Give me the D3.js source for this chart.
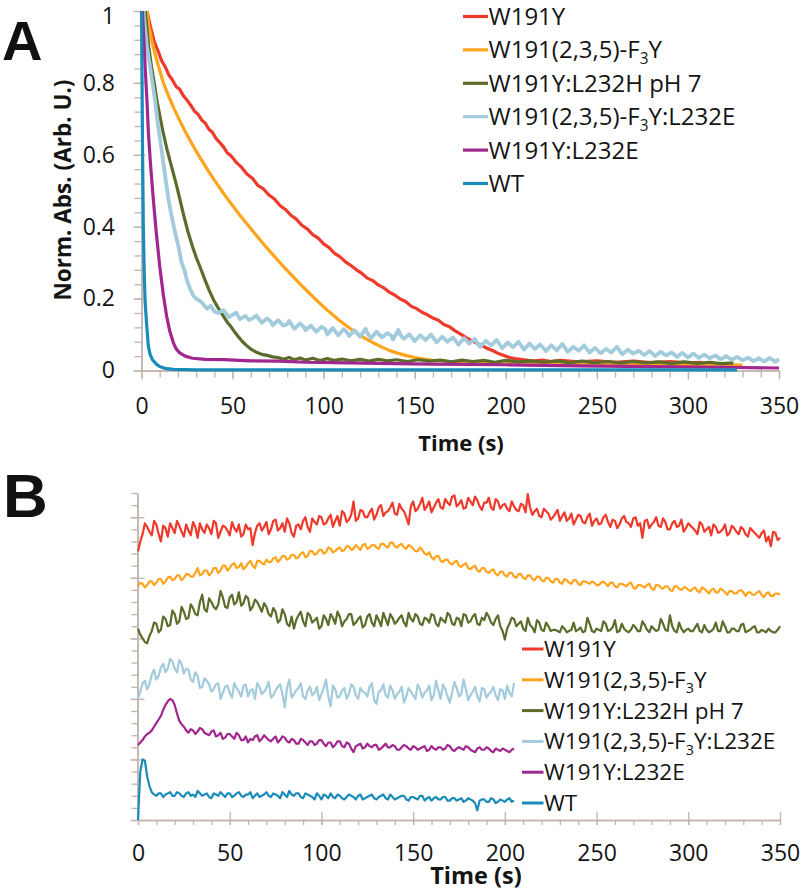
<!DOCTYPE html>
<html><head><meta charset="utf-8">
<script src="https://cdn.jsdelivr.net/npm/d3@7"></script>
<style>body{margin:0;background:#fff}svg{display:block}</style>
</head><body>
<svg id="c" width="803" height="894"></svg>
<script>
// ---------- data ----------
const seriesNames = ["W191Y","W191(2,3,5)-F_3Y","W191Y:L232H pH 7","W191(2,3,5)-F_3Y:L232E","W191Y:L232E","WT"];
const seriesColors = ["#ef3a2b","#ffa41c","#5b6c2b","#a2cbdb","#a1278f","#1a8cb9"];

const xTicks = [0,50,100,150,200,250,300,350];
const yTicksA = [0,0.2,0.4,0.6,0.8,1];
const yTickLabelsA = ["0","0.2","0.4","0.6","0.8","1"];
const yMajorB = [0,0.5,1,1.5,2,2.5];

// Panel A: normalized absorbance decay, [time (s), value]
const redA = [[3,1.0],[5,0.955],[7,0.915],[9,0.89],[11,0.862],[13,0.845],[15,0.822],[17,0.808],[19,0.79],[21,0.782],[23,0.764],[25,0.752],[27,0.738],[29,0.722],[31,0.713],[33,0.697],[35,0.688],[37,0.671],[39,0.662],[41,0.645],[43,0.634],[45,0.622],[47,0.606],[49,0.598],[52,0.579],[55,0.565],[58,0.546],[61,0.534],[64,0.514],[67,0.505],[70,0.488],[73,0.477],[76,0.459],[79,0.448],[82,0.432],[85,0.421],[88,0.404],[91,0.394],[94,0.378],[97,0.368],[100,0.352],[103,0.342],[106,0.326],[109,0.316],[112,0.302],[115,0.292],[118,0.28],[121,0.27],[124,0.257],[127,0.25],[130,0.238],[133,0.23],[136,0.218],[139,0.21],[142,0.199],[145,0.192],[148,0.179],[151,0.172],[154,0.162],[157,0.155],[160,0.146],[163,0.14],[166,0.128],[169,0.122],[172,0.111],[175,0.102],[178,0.092],[181,0.084],[184,0.076],[187,0.069],[190,0.061],[193,0.055],[196,0.047],[199,0.042],[202,0.036],[205,0.033],[210,0.03],[215,0.026],[220,0.029],[225,0.025],[230,0.028],[240,0.024],[250,0.027],[260,0.023],[270,0.026],[280,0.022],[290,0.025],[300,0.021],[308,0.023]];
const orangeA = [[3,1.0],[4,0.96],[6,0.91],[8,0.87],[10,0.835],[12,0.8],[15,0.762],[18,0.727],[21,0.695],[24,0.665],[27,0.637],[30,0.61],[33,0.585],[36,0.56],[39,0.537],[42,0.515],[45,0.493],[48,0.472],[51,0.452],[54,0.432],[57,0.413],[60,0.395],[63,0.376],[66,0.358],[69,0.34],[72,0.323],[75,0.306],[78,0.289],[81,0.273],[84,0.257],[87,0.241],[90,0.226],[93,0.211],[96,0.196],[99,0.182],[102,0.168],[105,0.155],[108,0.142],[111,0.13],[114,0.119],[117,0.108],[120,0.098],[124,0.086],[128,0.075],[132,0.065],[136,0.056],[140,0.049],[145,0.042],[150,0.036],[155,0.032],[160,0.028],[170,0.025],[180,0.022],[200,0.02],[250,0.018],[300,0.016],[330,0.015]];
const greenA = [[2,1.0],[3,0.95],[4,0.9],[5.5,0.845],[7,0.8],[8.5,0.75],[10,0.71],[12,0.66],[14,0.615],[16.5,0.567],[19,0.52],[21,0.478],[23,0.435],[25.5,0.386],[28,0.345],[30,0.315],[32,0.29],[35,0.25],[37,0.225],[39.5,0.197],[42,0.175],[44.5,0.155],[47,0.135],[49,0.123],[51,0.108],[53,0.095],[55.5,0.08],[58,0.068],[60.5,0.058],[63,0.051],[66,0.045],[69,0.042],[72,0.038],[75,0.036],[78,0.031],[81,0.036],[84,0.03],[87,0.035],[90,0.029],[94,0.034],[98,0.028],[102,0.033],[106,0.028],[110,0.032],[115,0.027],[120,0.031],[125,0.026],[130,0.031],[135,0.027],[140,0.03],[146,0.025],[152,0.03],[158,0.026],[164,0.029],[170,0.024],[176,0.029],[182,0.025],[188,0.028],[194,0.023],[200,0.028],[207,0.024],[214,0.027],[221,0.023],[228,0.027],[235,0.022],[242,0.026],[249,0.022],[256,0.025],[263,0.021],[270,0.025],[277,0.021],[284,0.024],[291,0.02],[298,0.024],[305,0.02],[312,0.023],[318,0.019],[325,0.021]];
const lightBlueA = [[1,1.0],[2,0.95],[3,0.9],[4.7,0.845],[6,0.8],[7.4,0.753],[9,0.685],[11,0.614],[13,0.54],[14.7,0.48],[16.5,0.43],[18.4,0.385],[20.5,0.34],[22,0.3],[23.5,0.28],[25,0.25],[26.6,0.228],[28.5,0.208],[30,0.2],[33,0.19],[36,0.172],[38,0.18],[40,0.164],[42,0.16],[45,0.168],[48,0.148],[50,0.155],[52,0.161],[54,0.143],[57,0.152],[59,0.14],[61,0.145],[63,0.153],[66,0.133],[69,0.145],[71,0.136],[72,0.126],[75,0.14],[78,0.125],[80,0.129],[81,0.138],[84,0.116],[87,0.131],[89,0.122],[90,0.112],[93,0.125],[96,0.108],[99,0.122],[101,0.114],[102,0.1],[105,0.118],[108,0.098],[111,0.115],[113,0.105],[114,0.096],[117,0.112],[120,0.094],[123,0.116],[124,0.104],[126,0.09],[129,0.108],[132,0.092],[135,0.104],[137,0.098],[138,0.086],[141,0.113],[142,0.1],[144,0.088],[147,0.101],[150,0.082],[153,0.098],[156,0.085],[159,0.1],[160,0.092],[162,0.078],[165,0.094],[168,0.08],[171,0.092],[174,0.072],[177,0.09],[180,0.075],[183,0.088],[184,0.079],[186,0.066],[189,0.083],[192,0.07],[195,0.085],[198,0.062],[201,0.078],[204,0.065],[207,0.08],[210,0.058],[213,0.075],[216,0.06],[219,0.072],[222,0.054],[225,0.07],[228,0.056],[231,0.074],[234,0.052],[237,0.066],[240,0.055],[243,0.07],[246,0.05],[249,0.063],[252,0.048],[255,0.06],[258,0.05],[261,0.066],[264,0.045],[267,0.058],[270,0.047],[273,0.055],[276,0.043],[279,0.054],[282,0.04],[285,0.052],[288,0.042],[291,0.05],[294,0.038],[297,0.049],[300,0.036],[303,0.047],[306,0.035],[309,0.044],[312,0.034],[315,0.042],[318,0.031],[321,0.04],[324,0.03],[327,0.038],[330,0.028],[333,0.036],[336,0.026],[339,0.034],[342,0.025],[345,0.035],[348,0.024],[350,0.032]];
const purpleA = [[0.5,1.0],[1.2,0.93],[2,0.845],[3,0.75],[3.8,0.66],[5,0.57],[6.5,0.475],[8,0.39],[10,0.29],[12,0.21],[13.8,0.151],[15.5,0.11],[17.5,0.077],[19,0.06],[21,0.049],[24,0.04],[28,0.034],[35,0.031],[45,0.03],[60,0.027],[75,0.026],[90,0.023],[105,0.022],[130,0.02],[160,0.018],[200,0.016],[240,0.013],[280,0.011],[320,0.009],[350,0.007]];
const tealA = [[0,1.0],[0.3,0.8],[0.6,0.6],[1,0.4],[1.5,0.27],[2,0.19],[2.8,0.13],[3.7,0.07],[4.7,0.045],[6,0.03],[8.3,0.017],[10,0.011],[13.5,0.005],[17.5,0.003],[30,0.002],[100,0.002],[200,0.002],[327,0.002]];

// Panel B: offset difference traces, sampled every 2.5 s (main) and at the half steps (mid)
const stepB = 2.5;
const redB = [2.22,2.36,2.42,2.35,2.44,2.30,2.41,2.45,2.37,2.43,2.34,2.39,2.46,2.33,2.40,2.44,2.36,2.45,2.38,2.42,2.35,2.41,2.44,2.36,2.40,2.27,2.43,2.39,2.46,2.40,2.48,2.41,2.38,2.45,2.34,2.44,2.47,2.42,2.49,2.44,2.50,2.45,2.52,2.47,2.43,2.53,2.48,2.63,2.49,2.55,2.50,2.57,2.52,2.60,2.54,2.58,2.53,2.61,2.55,2.44,2.63,2.57,2.66,2.59,2.54,2.62,2.58,2.65,2.60,2.68,2.61,2.57,2.66,2.60,2.64,2.56,2.62,2.58,2.65,2.57,2.61,2.55,2.59,2.55,2.60,2.69,2.52,2.57,2.50,2.55,2.48,2.53,2.47,2.54,2.49,2.44,2.52,2.46,2.50,2.43,2.49,2.45,2.52,2.42,2.47,2.44,2.51,2.45,2.49,2.43,2.33,2.48,2.44,2.50,2.42,2.46,2.40,2.47,2.43,2.38,2.45,2.41,2.36,2.44,2.40,2.35,2.42,2.38,2.44,2.37,2.41,2.36,2.40,2.34,2.39,2.35,2.37,2.30,2.26,2.37,2.33];
const redBmid = [2.30,2.45,2.38,2.47,2.36,2.43,2.34,2.41,2.47,2.38,2.44,2.35,2.42,2.45,2.37,2.41,2.47,2.33,2.43,2.39,2.46,2.38,2.34,2.44,2.41,2.37,2.45,2.42,2.36,2.47,2.39,2.45,2.49,2.37,2.43,2.40,2.50,2.38,2.46,2.51,2.44,2.49,2.42,2.51,2.55,2.46,2.52,2.47,2.56,2.50,2.54,2.48,2.58,2.51,2.55,2.62,2.52,2.57,2.50,2.59,2.55,2.61,2.56,2.63,2.58,2.65,2.57,2.62,2.67,2.59,2.64,2.58,2.63,2.67,2.59,2.62,2.66,2.56,2.63,2.60,2.57,2.63,2.56,2.61,2.54,2.58,2.55,2.51,2.57,2.53,2.50,2.56,2.51,2.47,2.53,2.48,2.51,2.45,2.53,2.47,2.44,2.50,2.46,2.48,2.41,2.49,2.46,2.42,2.50,2.45,2.47,2.41,2.46,2.43,2.49,2.40,2.45,2.42,2.48,2.41,2.43,2.39,2.46,2.38,2.42,2.44,2.37,2.40,2.35,2.43,2.38,2.42,2.36,2.41,2.37,2.33,2.39,2.34,2.38,2.31];
const orangeB = [1.93,1.95,1.94,1.97,1.96,1.99,1.97,2.01,1.99,2.02,2.00,2.03,2.01,2.08,2.03,2.06,2.04,2.08,2.06,2.10,2.08,2.12,2.09,2.07,2.12,2.10,2.14,2.12,2.15,2.13,2.17,2.15,2.18,2.16,2.19,2.17,2.21,2.18,2.22,2.20,2.23,2.21,2.24,2.22,2.25,2.23,2.26,2.24,2.25,2.27,2.24,2.27,2.25,2.28,2.26,2.29,2.26,2.27,2.25,2.27,2.24,2.22,2.23,2.19,2.17,2.18,2.14,2.15,2.12,2.13,2.10,2.11,2.08,2.09,2.06,2.08,2.05,2.06,2.03,2.05,2.02,2.04,2.01,2.03,2.00,2.02,1.99,2.01,1.98,2.00,1.97,1.99,1.96,1.99,1.96,1.98,1.95,1.97,1.96,1.97,1.94,1.96,1.95,1.96,1.93,1.95,1.94,1.95,1.92,1.94,1.93,1.94,1.91,1.94,1.92,1.93,1.90,1.93,1.91,1.92,1.90,1.91,1.89,1.92,1.89,1.90,1.88,1.91,1.88,1.89,1.87,1.89,1.88,1.88,1.86,1.88,1.86,1.87,1.85,1.87,1.86];
const orangeBmid = [1.96,1.92,1.97,1.94,1.99,1.95,2.00,1.98,2.02,1.98,2.03,2.01,2.04,2.02,2.06,2.02,2.08,2.04,2.10,2.06,2.11,2.08,2.12,2.09,2.14,2.08,2.14,2.11,2.13,2.16,2.13,2.18,2.15,2.19,2.16,2.20,2.17,2.22,2.19,2.23,2.20,2.25,2.21,2.24,2.22,2.26,2.23,2.27,2.23,2.28,2.25,2.27,2.24,2.28,2.25,2.29,2.25,2.28,2.24,2.26,2.22,2.25,2.20,2.21,2.15,2.18,2.13,2.15,2.11,2.14,2.09,2.12,2.07,2.10,2.05,2.08,2.04,2.07,2.02,2.05,2.01,2.04,2.00,2.03,1.99,2.02,1.98,2.01,1.97,2.00,1.96,1.99,1.95,1.98,1.95,1.98,1.94,1.97,1.95,1.96,1.94,1.97,1.93,1.96,1.92,1.95,1.93,1.96,1.91,1.94,1.92,1.95,1.90,1.94,1.91,1.93,1.89,1.93,1.90,1.92,1.89,1.92,1.88,1.91,1.87,1.91,1.88,1.90,1.86,1.89,1.87,1.90,1.85,1.88,1.86,1.89,1.84,1.88,1.85,1.87];
const greenB = [1.58,1.50,1.46,1.56,1.62,1.57,1.66,1.61,1.70,1.64,1.72,1.67,1.75,1.69,1.86,1.72,1.80,1.74,1.89,1.76,1.84,1.78,1.88,1.79,1.83,1.76,1.80,1.72,1.76,1.68,1.72,1.65,1.70,1.60,1.58,1.69,1.64,1.71,1.63,1.67,1.60,1.66,1.70,1.62,1.68,1.64,1.70,1.61,1.66,1.59,1.68,1.63,1.69,1.60,1.66,1.70,1.62,1.67,1.63,1.71,1.64,1.68,1.61,1.66,1.70,1.62,1.67,1.63,1.69,1.61,1.66,1.70,1.63,1.68,1.62,1.67,1.71,1.63,1.66,1.60,1.49,1.62,1.66,1.62,1.58,1.67,1.59,1.65,1.57,1.63,1.56,1.57,1.55,1.58,1.56,1.63,1.57,1.55,1.67,1.56,1.58,1.56,1.62,1.57,1.65,1.56,1.58,1.55,1.61,1.56,1.64,1.57,1.60,1.56,1.66,1.57,1.69,1.56,1.63,1.55,1.58,1.56,1.62,1.55,1.57,1.56,1.63,1.56,1.60,1.55,1.58,1.56,1.62,1.56,1.59,1.55,1.57,1.55,1.56,1.55,1.60];
const greenBmid = [1.53,1.47,1.52,1.63,1.55,1.68,1.60,1.73,1.62,1.76,1.66,1.78,1.70,1.80,1.74,1.83,1.76,1.78,1.84,1.75,1.86,1.80,1.77,1.85,1.73,1.82,1.76,1.79,1.70,1.75,1.63,1.74,1.62,1.68,1.65,1.72,1.60,1.69,1.65,1.58,1.69,1.61,1.67,1.72,1.60,1.66,1.70,1.63,1.68,1.61,1.70,1.60,1.65,1.71,1.61,1.67,1.64,1.69,1.60,1.66,1.70,1.62,1.67,1.63,1.69,1.60,1.65,1.71,1.62,1.67,1.60,1.69,1.64,1.70,1.61,1.65,1.68,1.61,1.69,1.56,1.58,1.67,1.60,1.64,1.56,1.61,1.55,1.63,1.56,1.60,1.57,1.56,1.60,1.55,1.57,1.56,1.59,1.56,1.62,1.55,1.57,1.64,1.56,1.59,1.55,1.62,1.56,1.57,1.59,1.56,1.61,1.55,1.58,1.57,1.62,1.56,1.60,1.55,1.58,1.57,1.56,1.59,1.56,1.61,1.55,1.58,1.56,1.64,1.55,1.58,1.56,1.61,1.55,1.57,1.60,1.55,1.56,1.58,1.55,1.57];
const lightBlueB = [1.00,1.13,1.08,1.20,1.16,1.26,1.22,1.33,1.25,1.32,1.21,1.24,1.14,1.19,1.10,1.15,1.06,1.12,1.00,1.10,1.05,1.13,1.06,1.11,1.02,1.08,1.13,1.04,1.09,1.01,1.07,1.12,0.93,1.16,1.04,1.09,1.02,1.07,1.03,1.10,1.04,1.16,0.94,1.08,1.02,1.09,1.04,1.10,1.00,1.06,1.02,1.13,0.96,1.07,1.03,1.11,1.00,1.06,0.97,1.09,1.03,1.12,1.01,1.07,0.99,1.15,1.00,1.08,0.97,1.14,1.02,1.16,0.99,1.06,1.02,1.09,1.01,1.06,1.03,1.08,1.00,1.05,1.13];
const lightBlueBmid = [1.06,1.15,1.12,1.24,1.19,1.29,1.25,1.31,1.22,1.29,1.25,1.16,1.22,1.09,1.17,1.12,1.08,1.13,1.05,1.11,1.01,1.09,1.02,1.12,1.07,1.00,1.10,1.06,1.14,1.03,1.10,1.04,1.09,1.01,1.07,1.13,1.00,1.10,1.05,0.99,1.09,1.02,1.11,1.01,1.07,1.00,1.12,1.03,1.09,1.05,1.10,0.99,1.06,1.12,1.01,1.07,1.04,1.10,1.02,1.06,1.00,1.08,1.05,1.11,1.03,1.07,1.12,1.02,1.05,1.09,1.04,1.08,1.03,1.10,0.98,1.08,1.04,1.10,0.99,1.07,1.11,1.02];
const purpleB = [0.62,0.66,0.71,0.74,0.80,0.86,0.95,1.00,0.95,0.82,0.77,0.72,0.74,0.73,0.75,0.71,0.73,0.69,0.72,0.68,0.71,0.67,0.70,0.66,0.64,0.66,0.70,0.67,0.68,0.65,0.69,0.66,0.68,0.64,0.66,0.63,0.66,0.62,0.65,0.63,0.66,0.61,0.64,0.62,0.65,0.60,0.63,0.56,0.62,0.59,0.63,0.60,0.62,0.59,0.63,0.60,0.61,0.58,0.62,0.59,0.61,0.58,0.60,0.57,0.61,0.58,0.60,0.59,0.61,0.57,0.60,0.58,0.60,0.57,0.59,0.58,0.60,0.57,0.59,0.57,0.58,0.56,0.59];
const purpleBmid = [0.64,0.69,0.72,0.77,0.83,0.91,0.98,0.99,0.88,0.79,0.74,0.75,0.71,0.76,0.72,0.70,0.74,0.70,0.67,0.71,0.69,0.72,0.66,0.69,0.67,0.69,0.65,0.70,0.66,0.67,0.64,0.69,0.65,0.67,0.63,0.67,0.64,0.65,0.62,0.66,0.63,0.64,0.60,0.65,0.61,0.64,0.59,0.61,0.63,0.60,0.61,0.62,0.58,0.61,0.60,0.62,0.58,0.60,0.61,0.58,0.60,0.59,0.61,0.58,0.59,0.60,0.58,0.62,0.58,0.59,0.59,0.61,0.58,0.56,0.60,0.58,0.59,0.56,0.58,0.59,0.57,0.58];
const tealB = [0.00,0.50,0.36,0.23,0.20,0.22,0.21,0.23,0.20,0.22,0.19,0.23,0.21,0.24,0.20,0.22,0.18,0.21,0.23,0.19,0.22,0.20,0.23,0.19,0.21,0.18,0.22,0.20,0.23,0.19,0.21,0.18,0.21,0.24,0.20,0.22,0.18,0.21,0.19,0.22,0.17,0.20,0.22,0.18,0.20,0.17,0.21,0.19,0.20,0.17,0.19,0.21,0.17,0.20,0.18,0.21,0.17,0.19,0.20,0.16,0.19,0.17,0.20,0.18,0.16,0.19,0.17,0.19,0.16,0.18,0.17,0.15,0.18,0.16,0.08,0.17,0.15,0.18,0.14,0.17,0.15,0.18,0.16];
const tealBmid = [0.40,0.49,0.28,0.21,0.22,0.19,0.22,0.20,0.23,0.20,0.22,0.20,0.19,0.22,0.21,0.19,0.22,0.20,0.21,0.22,0.19,0.22,0.20,0.21,0.23,0.20,0.19,0.21,0.20,0.22,0.20,0.23,0.19,0.21,0.22,0.19,0.22,0.20,0.17,0.20,0.21,0.18,0.19,0.21,0.18,0.19,0.20,0.17,0.21,0.18,0.20,0.18,0.19,0.21,0.17,0.19,0.18,0.20,0.17,0.19,0.18,0.20,0.16,0.19,0.18,0.17,0.19,0.16,0.18,0.16,0.18,0.16,0.17,0.14,0.16,0.17,0.15,0.17,0.15,0.16,0.17,0.15];

const seriesA = [redA, orangeA, greenA, lightBlueA, purpleA, tealA];
const seriesBmain = [redB, orangeB, greenB, lightBlueB, purpleB, tealB];
const seriesBmid = [redBmid, orangeBmid, greenBmid, lightBlueBmid, purpleBmid, tealBmid];

// merge the main and half-step samples into [time, value] pairs
const seriesB = seriesBmain.map((main, k) => {
  const mid = seriesBmid[k], pts = [];
  main.forEach((v, i) => {
    pts.push([i * stepB, v]);
    if (i < mid.length) pts.push([i * stepB + stepB / 2, mid[i]]);
  });
  return pts;
});

// ---------- drawing ----------
const FONT = "'Open Sans', 'DejaVu Sans', sans-serif";
const AXC = "#c2b3ad";
const svg = d3.select("#c");

function styleAxis(g, fs) {
  g.select(".domain").attr("stroke", AXC).attr("stroke-width", 1.5);
  g.selectAll(".tick line").attr("stroke", AXC).attr("stroke-width", 1.3);
  g.selectAll(".tick text").attr("font-family", FONT).attr("font-size", fs || 23).attr("fill", "#141414");
  g.attr("font-family", FONT);
}

function addLabel(sel, name, x, y, fs) {
  const t = sel.append("text").attr("x", x).attr("y", y)
    .attr("font-family", FONT).attr("font-size", fs).attr("fill", "#141414");
  const parts = name.split("_3");
  t.append("tspan").text(parts[0]);
  for (let i = 1; i < parts.length; i++) {
    t.append("tspan").attr("dy", fs * 0.25).attr("font-size", fs * 0.64).text("3");
    t.append("tspan").attr("dy", -fs * 0.25).text(parts[i]);
  }
}

// ===== Panel A =====
const xA = d3.scaleLinear().domain([0, 350]).range([141.5, 779]);
const yA = d3.scaleLinear().domain([0, 1]).range([370.5, 11]);
const gA = svg.append("g");

gA.append("g").attr("transform", `translate(0,${yA(0)})`)
  .call(d3.axisBottom(xA).tickValues(d3.range(0, 351, 10)).tickSize(7).tickSizeOuter(0).tickFormat(""))
  .call(g => styleAxis(g));
gA.append("g").attr("transform", `translate(0,${yA(0)})`)
  .call(d3.axisBottom(xA).tickValues(xTicks).tickSize(9).tickPadding(18.5).tickSizeOuter(0).tickFormat(d3.format("d")))
  .call(g => styleAxis(g));
gA.append("g").attr("transform", `translate(${xA(0)},0)`)
  .call(d3.axisLeft(yA).tickValues(d3.range(0, 1.001, 0.04)).tickSize(7).tickSizeOuter(0).tickFormat(""))
  .call(g => styleAxis(g));
gA.append("g").attr("transform", `translate(${xA(0)},0)`)
  .call(d3.axisLeft(yA).tickValues(yTicksA).tickSize(8).tickPadding(18.5).tickSizeOuter(0).tickFormat((d, i) => yTickLabelsA[i]))
  .call(g => {
    styleAxis(g);
    g.selectAll(".tick line").attr("x1", 4);
    g.selectAll(".tick text").filter(d => d === 1).attr("dy", "0.55em");
  });

const lineA = d3.line().x(d => xA(d[0])).y(d => yA(d[1]));
gA.append("g").selectAll("path").data(seriesA).join("path")
  .attr("d", lineA).attr("fill", "none")
  .attr("stroke", (d, i) => seriesColors[i])
  .attr("stroke-width", (d, i) => i === 3 ? 3.8 : 3.2)
  .attr("stroke-linejoin", "round");

const legA = gA.append("g");
seriesNames.forEach((n, i) => {
  const cy = 16.5 + i * 33.4;
  legA.append("line").attr("x1", 463).attr("x2", 488).attr("y1", cy).attr("y2", cy)
    .attr("stroke", seriesColors[i]).attr("stroke-width", 3.2);
  addLabel(legA, n, 488.5, cy + 8.5, 24);
});

gA.append("text").attr("x", 461).attr("y", 451).attr("text-anchor", "middle")
  .attr("font-family", FONT).attr("font-weight", "bold").attr("font-size", 22).attr("fill", "#141414").text("Time (s)");
gA.append("text").attr("transform", "translate(71,190) rotate(-90)").attr("text-anchor", "middle")
  .attr("font-family", FONT).attr("font-weight", "bold").attr("font-size", 22.5).attr("fill", "#141414").text("Norm. Abs. (Arb. U.)");
svg.append("text").attr("x", 2).attr("y", 60).attr("font-family", "'Liberation Sans', Arial, sans-serif")
  .attr("font-weight", "bold").attr("font-size", 56).attr("fill", "#111").text("A");

// ===== Panel B =====
const xB = d3.scaleLinear().domain([0, 350]).range([138, 780]);
const yB = d3.scaleLinear().domain([0, 2.7]).range([820, 493]);
const gB = svg.append("g");

gB.append("g").attr("transform", `translate(0,${yB(0)})`)
  .call(d3.axisBottom(xB).tickValues(d3.range(0, 351, 10)).tickSize(5).tickSizeOuter(0).tickFormat(""))
  .call(g => styleAxis(g));
gB.append("g").attr("transform", `translate(0,${yB(0)})`)
  .call(d3.axisBottom(xB).tickValues(xTicks).tickSize(5).tickPadding(20).tickSizeOuter(0).tickFormat(d3.format("d")))
  .call(g => { styleAxis(g); g.selectAll(".tick line").attr("y1", -8); });
gB.append("g").attr("transform", `translate(${xB(0) - 0.5},0)`)
  .call(d3.axisLeft(yB).tickValues(d3.range(0, 2.701, 0.1)).tickSize(6).tickSizeOuter(0).tickFormat(""))
  .call(g => styleAxis(g));
gB.append("g").attr("transform", `translate(${xB(0) - 0.5},0)`)
  .call(d3.axisLeft(yB).tickValues(yMajorB).tickSize(7).tickSizeOuter(0).tickFormat(""))
  .call(g => { styleAxis(g); g.selectAll(".tick line").attr("x1", 7); });

const lineB = d3.line().x(d => xB(d[0])).y(d => yB(d[1]));
gB.append("g").selectAll("path").data(seriesB).join("path")
  .attr("d", lineB).attr("fill", "none")
  .attr("stroke", (d, i) => seriesColors[i])
  .attr("stroke-width", 2.2).attr("stroke-linejoin", "round");

const legB = gB.append("g");
seriesNames.forEach((n, i) => {
  const cy = 649 + i * 30.8;
  legB.append("line").attr("x1", 522).attr("x2", 543.5).attr("y1", cy).attr("y2", cy)
    .attr("stroke", seriesColors[i]).attr("stroke-width", 3);
  addLabel(legB, n, 544, cy + 8, 22.5);
});

gB.append("text").attr("x", 476).attr("y", 884).attr("text-anchor", "middle")
  .attr("font-family", FONT).attr("font-weight", "bold").attr("font-size", 23.5).attr("fill", "#141414").text("Time (s)");
svg.append("text").attr("x", 3).attr("y", 517).attr("font-family", "'Liberation Sans', Arial, sans-serif")
  .attr("font-weight", "bold").attr("font-size", 62).attr("fill", "#111").text("B");
</script>
</body></html>
